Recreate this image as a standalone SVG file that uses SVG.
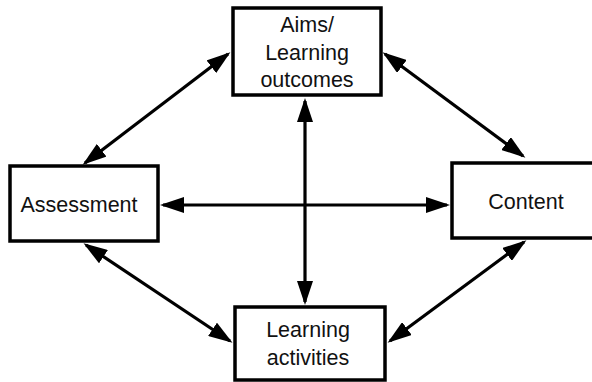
<svg xmlns="http://www.w3.org/2000/svg" width="592" height="382" viewBox="0 0 592 382">
  <style>
    .box { fill: #fff; stroke: #000; stroke-width: 3.5; }
    .lbl { font-family: "Liberation Sans", Arial, sans-serif; font-size: 21.5px; fill: #111; text-anchor: middle; }
    .link { stroke: #000; stroke-width: 3.2; fill: none; marker-start: url(#head); marker-end: url(#head); }
  </style>
  <defs>
    <!-- arrowhead tip sits 3px beyond the line end so the stroke stays hidden -->
    <marker id="head" markerUnits="userSpaceOnUse" markerWidth="26" markerHeight="16" refX="21" refY="8" orient="auto-start-reverse" viewBox="0 0 26 16">
      <path d="M0,0 L24,8 L0,16 z" fill="#000"/>
    </marker>
  </defs>

  <!-- connectors -->
  <g id="connectors">
    <line class="link" x1="228" y1="54" x2="85" y2="163"/>
    <line class="link" x1="385" y1="54" x2="523" y2="156"/>
    <line class="link" x1="86" y1="245" x2="230" y2="341"/>
    <line class="link" x1="524" y1="242" x2="390" y2="341"/>
    <line class="link" x1="163" y1="205" x2="447" y2="205"/>
    <line class="link" x1="305" y1="101" x2="305" y2="302"/>
  </g>

  <g id="aims">
    <rect class="box" x="233" y="8" width="148" height="87"/>
    <text class="lbl" x="307" y="32">Aims/</text>
    <text class="lbl" x="307" y="60">Learning</text>
    <text class="lbl" x="307" y="87">outcomes</text>
  </g>

  <g id="assessment">
    <rect class="box" x="10" y="166" width="148" height="75"/>
    <text class="lbl" x="79" y="212">Assessment</text>
  </g>

  <g id="content">
    <rect class="box" x="452" y="163" width="160" height="75"/>
    <text class="lbl" x="526" y="209">Content</text>
  </g>

  <g id="activities">
    <rect class="box" x="235" y="307" width="150" height="73"/>
    <text class="lbl" x="308" y="337">Learning</text>
    <text class="lbl" x="308" y="365">activities</text>
  </g>
</svg>
